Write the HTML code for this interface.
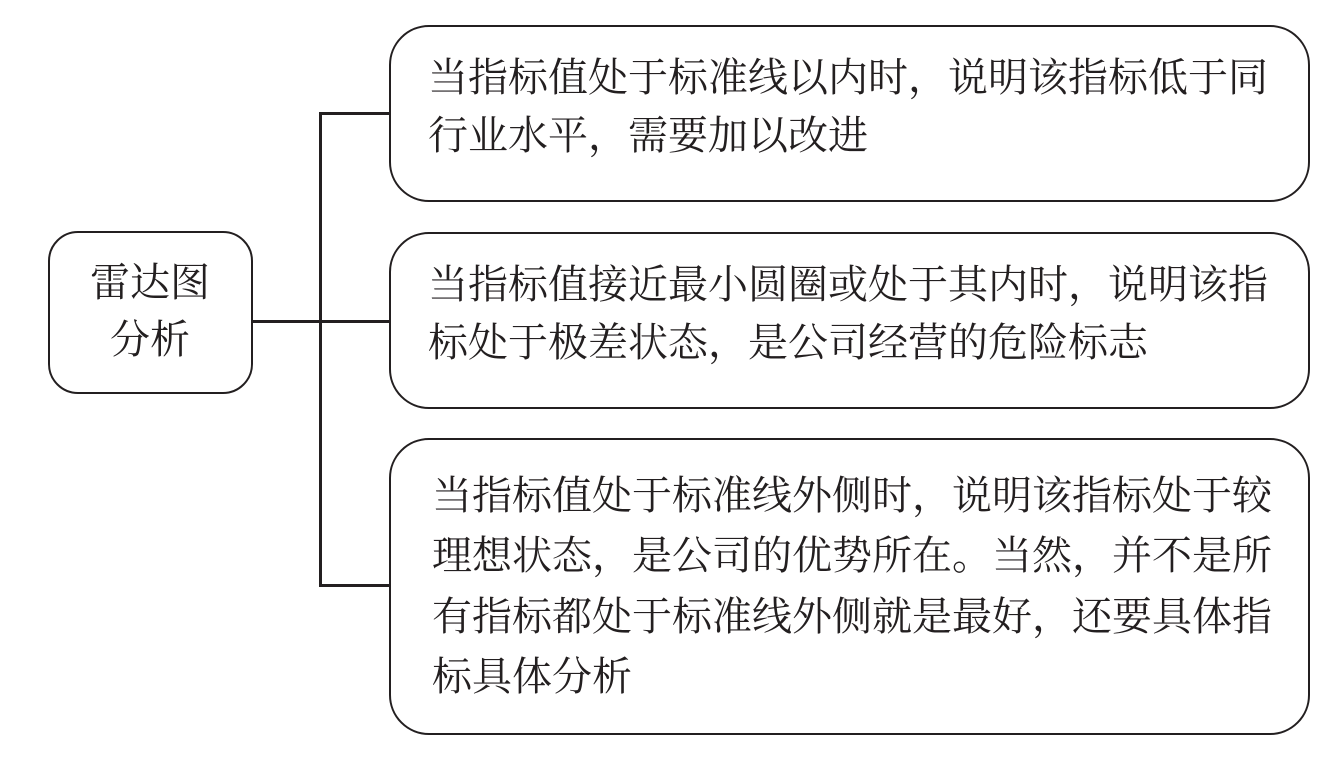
<!DOCTYPE html>
<html><head><meta charset="utf-8"><style>
body{margin:0;width:1333px;height:775px;background:#fff;position:relative;overflow:hidden;font-family:"Liberation Sans","Noto Serif CJK SC","Noto Sans CJK SC",serif;color:#231f20}
.b{position:absolute;border:2.5px solid #231f20;box-sizing:border-box;background:#fff}
.t{position:absolute;font-size:40px;line-height:40px;white-space:nowrap}
.l{position:absolute;background:#231f20}
</style></head><body>
<div class="l" style="left:252px;top:320px;width:137px;height:2.5px"></div>
<div class="l" style="left:319px;top:112px;width:2.5px;height:474px"></div>
<div class="l" style="left:319px;top:112px;width:70px;height:2.5px"></div>
<div class="l" style="left:319px;top:584px;width:70px;height:2.5px"></div>
<div class="b" style="left:48px;top:231px;width:205px;height:163px;border-radius:30px"></div>
<div class="t" style="left:90px;top:263px">雷达图</div>
<div class="t" style="left:110px;top:320px">分析</div>
<div class="b" style="left:389px;top:25px;width:921px;height:177px;border-radius:40px"></div>
<div class="t" style="left:428px;top:58px">当指标值处于标准线以内时，说明该指标低于同</div>
<div class="t" style="left:428px;top:116px">行业水平，需要加以改进</div>
<div class="b" style="left:389px;top:232px;width:921px;height:177px;border-radius:40px"></div>
<div class="t" style="left:428px;top:265px">当指标值接近最小圆圈或处于其内时，说明该指</div>
<div class="t" style="left:428px;top:323px">标处于极差状态，是公司经营的危险标志</div>
<div class="b" style="left:389px;top:438px;width:921px;height:297px;border-radius:40px"></div>
<div class="t" style="left:432px;top:476px">当指标值处于标准线外侧时，说明该指标处于较</div>
<div class="t" style="left:432px;top:536px">理想状态，是公司的优势所在。当然，并不是所</div>
<div class="t" style="left:432px;top:597px">有指标都处于标准线外侧就是最好，还要具体指</div>
<div class="t" style="left:432px;top:657px">标具体分析</div>
</body></html>
